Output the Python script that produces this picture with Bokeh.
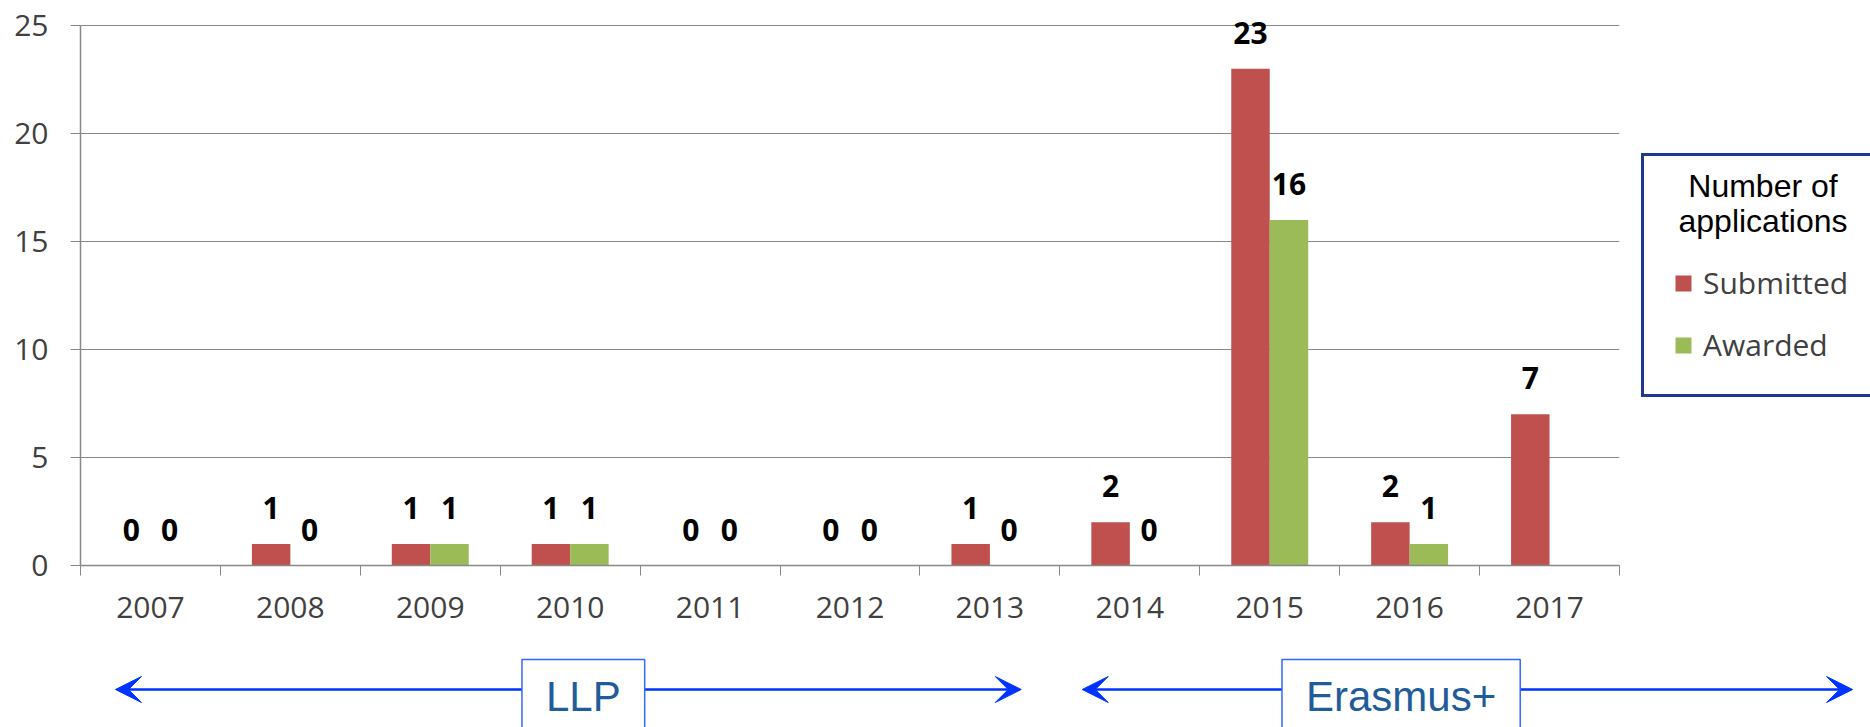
from bokeh.plotting import figure
from bokeh.layouts import column, row
from bokeh.models import (ColumnDataSource, Range1d, FixedTicker, LabelSet, Legend,
                          LegendItem, Arrow, VeeHead, Label)
from bokeh.core.properties import value
from bokeh.embed import file_html
from bokeh.resources import INLINE

# ---------------- data ----------------
years = ["2007", "2008", "2009", "2010", "2011", "2012", "2013", "2014", "2015", "2016", "2017"]
submitted = [0, 1, 1, 1, 0, 0, 1, 2, 23, 2, 7]
awarded = [0, 0, 1, 1, 0, 0, 0, 0, 16, 1, None]
series_names = ["Submitted", "Awarded"]
legend_title_lines = ["Number of", "applications"]
programmes = ["LLP", "Erasmus+"]
y_ticks = [0, 5, 10, 15, 20, 25]

# ---------------- styles / layout ----------------
RED = "#C0504D"
GREEN = "#9BBB59"
GRID = "#888888"
TICK_TXT = "#404040"
ARROW_BLUE = "#0033FF"
BOX_BLUE = "#3366FF"
PROG_TXT = "#1F5C99"
LEG_BORDER = "#1F3A8C"
BAR_W = 0.275

TOTAL_W, TOTAL_H = 1870, 727
MAIN_W, MAIN_H = 1624, 650
FRAME_L, FRAME_R, FRAME_B = 80, 1619, 565
Y_PX = 21.6                      # pixels per unit on the value axis
PPC = (FRAME_R - FRAME_L) / len(years)   # pixels per category

idx = list(range(len(years)))
sub_src = ColumnDataSource(dict(
    x=[i + 0.5 - BAR_W / 2 for i in idx],
    top=submitted,
    label=[str(v) for v in submitted],
))
aw_pairs = [(i, v) for i, v in zip(idx, awarded) if v is not None]
aw_src = ColumnDataSource(dict(
    x=[i + 0.5 + BAR_W / 2 for i, _ in aw_pairs],
    top=[v for _, v in aw_pairs],
    label=[str(v) for _, v in aw_pairs],
))

# ---------------- main chart ----------------
p = figure(width=MAIN_W, height=MAIN_H, output_backend="svg", toolbar_location=None,
           x_range=Range1d(0, len(years)), y_range=Range1d(0, FRAME_B / Y_PX),
           min_border_left=FRAME_L, min_border_right=MAIN_W - FRAME_R,
           min_border_top=0, min_border_bottom=MAIN_H - FRAME_B)
p.outline_line_color = None

r_sub = p.vbar(x="x", top="top", width=BAR_W, bottom=0, source=sub_src,
               fill_color=RED, line_color=None)
r_aw = p.vbar(x="x", top="top", width=BAR_W, bottom=0, source=aw_src,
              fill_color=GREEN, line_color=None)

p.xgrid.visible = False
p.ygrid.grid_line_color = GRID
p.ygrid.grid_line_width = 1
p.ygrid.ticker = FixedTicker(ticks=y_ticks)

xa = p.xaxis[0]
xa.ticker = FixedTicker(ticks=[i + 0.5 for i in idx],
                        minor_ticks=list(range(len(years) + 1)))
xa.major_label_overrides = {i + 0.5: y for i, y in zip(idx, years)}
xa.major_tick_out = 0
xa.major_tick_in = 0
xa.minor_tick_out = 10
xa.minor_tick_in = 0
xa.minor_tick_line_color = GRID
xa.axis_line_color = GRID
xa.axis_line_width = 1.5
xa.major_label_text_font = "Open Sans"
xa.major_label_text_font_size = "30px"
xa.major_label_text_color = TICK_TXT
xa.major_label_standoff = 21

ya = p.yaxis[0]
ya.ticker = FixedTicker(ticks=y_ticks)
ya.bounds = (0, 25)
ya.major_tick_out = 10
ya.major_tick_in = 0
ya.minor_tick_out = 0
ya.minor_tick_in = 0
ya.major_tick_line_color = GRID
ya.axis_line_color = GRID
ya.axis_line_width = 1.5
ya.major_label_text_font = "Open Sans"
ya.major_label_text_font_size = "30px"
ya.major_label_text_color = TICK_TXT
ya.major_label_standoff = 22

for src in (sub_src, aw_src):
    p.add_layout(LabelSet(x="x", y="top", text="label", source=src,
                          text_align="center", text_baseline="alphabetic",
                          y_offset=25, text_font=value("Open Sans"),
                          text_font_style="bold", text_font_size="30px",
                          text_color="black"))

# ---------------- legend panel ----------------
LEG_W = TOTAL_W - MAIN_W
lf = figure(width=LEG_W, height=MAIN_H, output_backend="svg", toolbar_location=None,
            x_range=Range1d(0, LEG_W), y_range=Range1d(0, FRAME_B),
            x_axis_location=None, y_axis_location=None,
            min_border_left=0, min_border_right=0, min_border_top=0,
            min_border_bottom=MAIN_H - FRAME_B)
lf.outline_line_color = None
lf.grid.visible = False
lf.background_fill_color = "white"
# legend proxies: same series, zero width so nothing is drawn in this panel
d_sub = lf.vbar(x="x", top="top", width=0, source=sub_src,
                fill_color=RED, line_color=None)
d_aw = lf.vbar(x="x", top="top", width=0, source=aw_src,
               fill_color=GREEN, line_color=None)
for k, line in enumerate(legend_title_lines):
    lf.add_layout(Label(x=138.5, y=FRAME_B - 185 - 35 * k, text=line,
                        text_align="center", text_baseline="alphabetic",
                        text_font="Liberation Sans", text_font_size="32px",
                        text_color="black"))
legend = Legend(items=[LegendItem(label=series_names[0], renderers=[d_sub]),
                       LegendItem(label=series_names[1], renderers=[d_aw])],
                location=(17, FRAME_B - 397), title=" ",
                title_text_font_size="30px", title_standoff=43,
                glyph_width=20, glyph_height=20, label_height=30,
                label_standoff=10, spacing=21, padding=29, margin=0,
                label_text_font="Open Sans", label_text_font_size="30px",
                label_text_color=TICK_TXT,
                border_line_color=LEG_BORDER, border_line_width=3,
                border_line_alpha=1.0,
                background_fill_alpha=0.0)
lf.add_layout(legend)

# ---------------- programme arrows ----------------
ARR_H = TOTAL_H - MAIN_H
af = figure(width=TOTAL_W, height=ARR_H, output_backend="svg", toolbar_location=None,
            x_range=Range1d(-FRAME_L / PPC, (TOTAL_W - FRAME_L) / PPC),
            y_range=Range1d(0, ARR_H),
            x_axis_location=None, y_axis_location=None, min_border=0)
af.outline_line_color = None
af.grid.visible = False
ARROW_Y = TOTAL_H - 689
spans = [(0.25, 6.724, 3.594), (7.16, 12.666, 9.439)]
for name, (xs, xe, xc) in zip(programmes, spans):
    af.add_layout(Arrow(start=VeeHead(size=26, fill_color=ARROW_BLUE, line_color=ARROW_BLUE),
                        end=VeeHead(size=26, fill_color=ARROW_BLUE, line_color=ARROW_BLUE),
                        x_start=xs, y_start=ARROW_Y, x_end=xe, y_end=ARROW_Y,
                        line_color=ARROW_BLUE, line_width=2.5))
    af.add_layout(Label(x=xc, y=TOTAL_H - 695, text=name, text_align="center",
                        text_baseline="middle", text_font="Liberation Sans",
                        text_font_size="42px", text_color=PROG_TXT,
                        background_fill_color="white",
                        border_line_color=BOX_BLUE, border_line_width=1.5,
                        padding=(24, 24, 13, 12)))

layout = column(row(p, lf), af)
open("out.html", "w").write(file_html(layout, INLINE))
